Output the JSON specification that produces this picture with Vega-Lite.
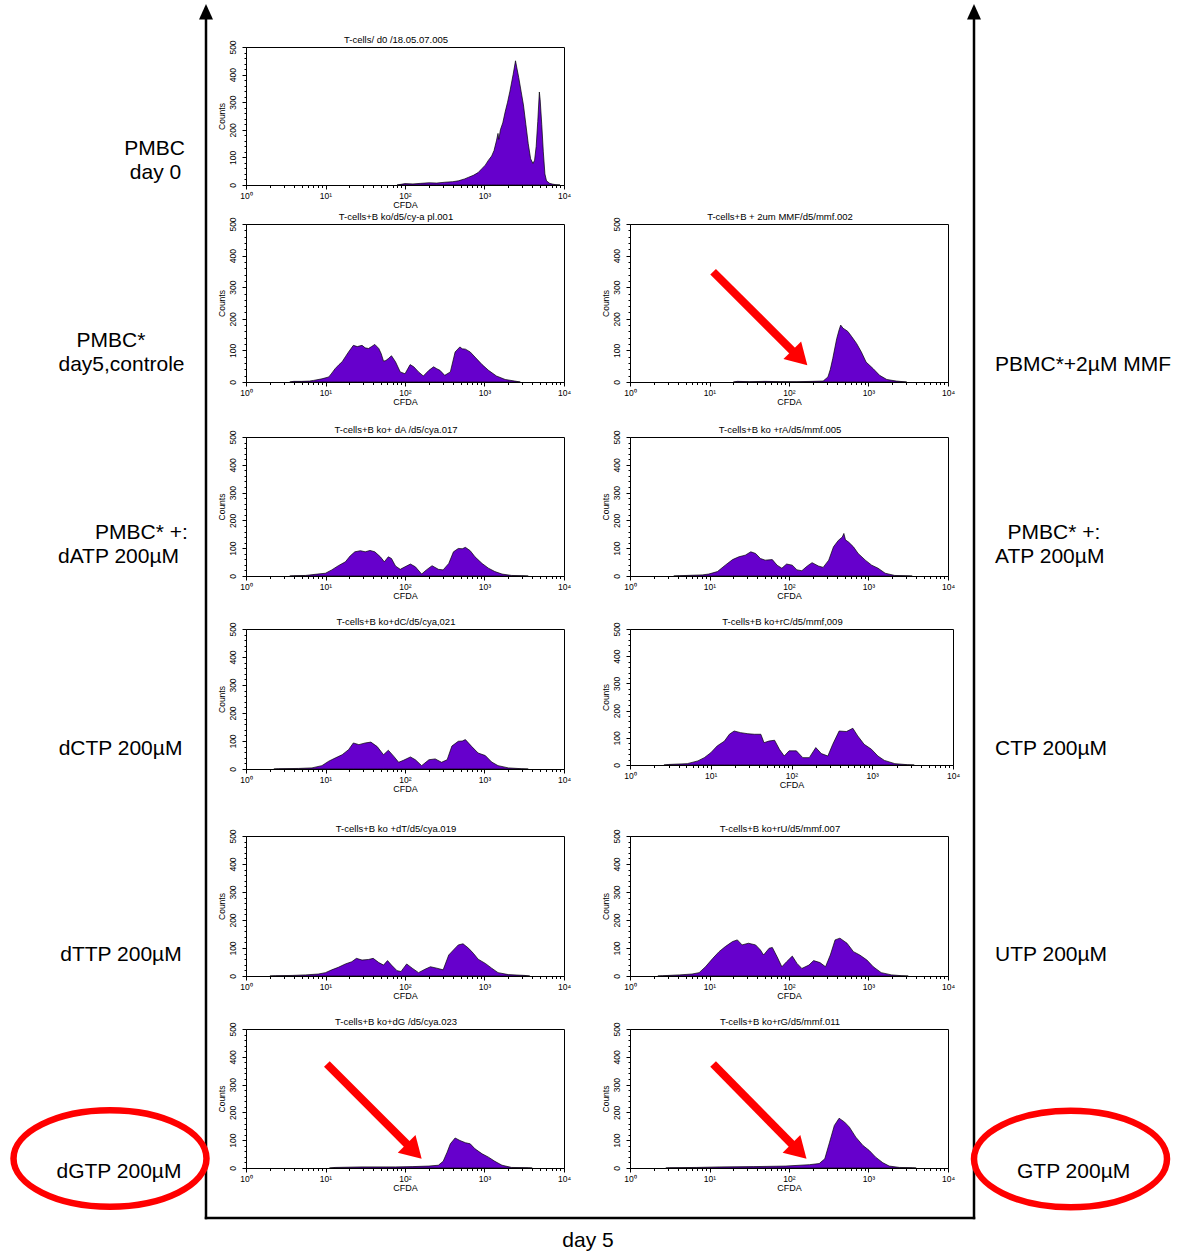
{
"$schema": "https://vega.github.io/schema/vega-lite/v6.json",
"padding": 0,
"autosize": {"type": "pad"},
"bounds": "flush",
"columns": 4,
"spacing": {"row": 0, "column": 66},
"config": {
  "font": "Liberation Sans",
  "background": "white",
  "axis": {"grid": false, "domainColor": "black", "tickColor": "black", "labelColor": "black", "titleColor": "black", "titleFontWeight": "normal", "labelFont": "Liberation Sans", "titleFont": "Liberation Sans"},
  "title": {"fontSize": 9.5, "fontWeight": "normal", "color": "black", "offset": -5, "baseline": "alphabetic", "font": "Liberation Sans", "frame": "group", "dx": -9},
  "text": {"font": "Liberation Sans", "color": "black"}
},
"datasets": {
"p1": [{"CFDA":79.4,"Counts":0},{"CFDA":100,"Counts":5},{"CFDA":126,"Counts":4},{"CFDA":158,"Counts":6},{"CFDA":200,"Counts":8},{"CFDA":251,"Counts":7},{"CFDA":316,"Counts":10},{"CFDA":398,"Counts":12},{"CFDA":468,"Counts":15},{"CFDA":562,"Counts":22},{"CFDA":631,"Counts":28},{"CFDA":724,"Counts":35},{"CFDA":832,"Counts":45},{"CFDA":933,"Counts":60},{"CFDA":1023,"Counts":72},{"CFDA":1122,"Counts":90},{"CFDA":1230,"Counts":105},{"CFDA":1318,"Counts":125},{"CFDA":1413,"Counts":160},{"CFDA":1479,"Counts":187},{"CFDA":1514,"Counts":165},{"CFDA":1585,"Counts":200},{"CFDA":1698,"Counts":225},{"CFDA":1820,"Counts":265},{"CFDA":1950,"Counts":300},{"CFDA":2089,"Counts":340},{"CFDA":2291,"Counts":400},{"CFDA":2455,"Counts":450},{"CFDA":2570,"Counts":420},{"CFDA":2692,"Counts":390},{"CFDA":2884,"Counts":340},{"CFDA":3090,"Counts":290},{"CFDA":3311,"Counts":220},{"CFDA":3548,"Counts":150},{"CFDA":3802,"Counts":95},{"CFDA":4074,"Counts":78},{"CFDA":4266,"Counts":90},{"CFDA":4467,"Counts":140},{"CFDA":4677,"Counts":230},{"CFDA":4898,"Counts":337},{"CFDA":5012,"Counts":310},{"CFDA":5248,"Counts":220},{"CFDA":5495,"Counts":120},{"CFDA":5754,"Counts":40},{"CFDA":6026,"Counts":15},{"CFDA":6607,"Counts":6},{"CFDA":7244,"Counts":3},{"CFDA":7943,"Counts":1},{"CFDA":8913,"Counts":0}],
"p2": [{"CFDA":3.55,"Counts":0},{"CFDA":3.98,"Counts":2},{"CFDA":5.01,"Counts":2},{"CFDA":6.31,"Counts":3},{"CFDA":7.08,"Counts":5},{"CFDA":9.02,"Counts":10},{"CFDA":11.0,"Counts":16},{"CFDA":12.0,"Counts":28},{"CFDA":13.2,"Counts":42},{"CFDA":14.8,"Counts":55},{"CFDA":16.2,"Counts":64},{"CFDA":17.8,"Counts":80},{"CFDA":19.5,"Counts":95},{"CFDA":22.4,"Counts":116},{"CFDA":25.1,"Counts":112},{"CFDA":28.8,"Counts":116},{"CFDA":31.6,"Counts":108},{"CFDA":34.7,"Counts":106},{"CFDA":38.0,"Counts":112},{"CFDA":41.7,"Counts":119},{"CFDA":46.8,"Counts":106},{"CFDA":50.1,"Counts":90},{"CFDA":53.7,"Counts":66},{"CFDA":57.5,"Counts":68},{"CFDA":61.7,"Counts":74},{"CFDA":67.6,"Counts":83},{"CFDA":75.9,"Counts":64},{"CFDA":87.1,"Counts":32},{"CFDA":100,"Counts":26},{"CFDA":116,"Counts":55},{"CFDA":129,"Counts":48},{"CFDA":148,"Counts":32},{"CFDA":170,"Counts":19},{"CFDA":200,"Counts":37},{"CFDA":229,"Counts":48},{"CFDA":251,"Counts":42},{"CFDA":275,"Counts":37},{"CFDA":316,"Counts":21},{"CFDA":372,"Counts":32},{"CFDA":427,"Counts":95},{"CFDA":490,"Counts":111},{"CFDA":525,"Counts":105},{"CFDA":575,"Counts":104},{"CFDA":661,"Counts":95},{"CFDA":759,"Counts":79},{"CFDA":933,"Counts":55},{"CFDA":1122,"Counts":37},{"CFDA":1413,"Counts":19},{"CFDA":1820,"Counts":8},{"CFDA":2399,"Counts":3},{"CFDA":2818,"Counts":0}],
"p3": [{"CFDA":20.0,"Counts":0},{"CFDA":22.4,"Counts":2},{"CFDA":31.6,"Counts":1},{"CFDA":50.1,"Counts":2},{"CFDA":79.4,"Counts":1},{"CFDA":126,"Counts":1},{"CFDA":200,"Counts":2},{"CFDA":269,"Counts":3},{"CFDA":309,"Counts":16},{"CFDA":331,"Counts":40},{"CFDA":355,"Counts":74},{"CFDA":398,"Counts":137},{"CFDA":427,"Counts":165},{"CFDA":447,"Counts":180},{"CFDA":479,"Counts":170},{"CFDA":501,"Counts":167},{"CFDA":550,"Counts":160},{"CFDA":617,"Counts":143},{"CFDA":708,"Counts":122},{"CFDA":813,"Counts":95},{"CFDA":933,"Counts":63},{"CFDA":1148,"Counts":42},{"CFDA":1380,"Counts":21},{"CFDA":1698,"Counts":8},{"CFDA":2239,"Counts":3},{"CFDA":3020,"Counts":0}],
"p4": [{"CFDA":3.55,"Counts":0},{"CFDA":3.98,"Counts":1},{"CFDA":5.62,"Counts":2},{"CFDA":7.41,"Counts":6},{"CFDA":10,"Counts":10},{"CFDA":12.0,"Counts":22},{"CFDA":14.5,"Counts":37},{"CFDA":17.8,"Counts":51},{"CFDA":20.4,"Counts":72},{"CFDA":23.4,"Counts":87},{"CFDA":27.5,"Counts":91},{"CFDA":31.6,"Counts":87},{"CFDA":36.3,"Counts":92},{"CFDA":41.7,"Counts":87},{"CFDA":49.0,"Counts":69},{"CFDA":55.0,"Counts":51},{"CFDA":61.7,"Counts":69},{"CFDA":67.6,"Counts":63},{"CFDA":75.9,"Counts":36},{"CFDA":87.1,"Counts":24},{"CFDA":100,"Counts":33},{"CFDA":117,"Counts":43},{"CFDA":135,"Counts":33},{"CFDA":162,"Counts":7},{"CFDA":186,"Counts":22},{"CFDA":219,"Counts":37},{"CFDA":263,"Counts":24},{"CFDA":302,"Counts":22},{"CFDA":355,"Counts":45},{"CFDA":407,"Counts":87},{"CFDA":468,"Counts":99},{"CFDA":525,"Counts":98},{"CFDA":575,"Counts":103},{"CFDA":661,"Counts":91},{"CFDA":759,"Counts":69},{"CFDA":933,"Counts":45},{"CFDA":1122,"Counts":28},{"CFDA":1349,"Counts":16},{"CFDA":1660,"Counts":7},{"CFDA":2188,"Counts":2},{"CFDA":2951,"Counts":1},{"CFDA":3548,"Counts":0}],
"p5": [{"CFDA":3.55,"Counts":0},{"CFDA":4.17,"Counts":1},{"CFDA":8.13,"Counts":4},{"CFDA":9.77,"Counts":7},{"CFDA":12.6,"Counts":16},{"CFDA":15.8,"Counts":39},{"CFDA":19.5,"Counts":59},{"CFDA":23.4,"Counts":69},{"CFDA":28.2,"Counts":75},{"CFDA":33.1,"Counts":87},{"CFDA":38.0,"Counts":81},{"CFDA":43.7,"Counts":63},{"CFDA":50.1,"Counts":57},{"CFDA":61.7,"Counts":59},{"CFDA":70.8,"Counts":39},{"CFDA":81.3,"Counts":28},{"CFDA":93.3,"Counts":43},{"CFDA":110,"Counts":39},{"CFDA":126,"Counts":22},{"CFDA":145,"Counts":19},{"CFDA":170,"Counts":36},{"CFDA":195,"Counts":48},{"CFDA":234,"Counts":36},{"CFDA":269,"Counts":31},{"CFDA":316,"Counts":57},{"CFDA":363,"Counts":105},{"CFDA":417,"Counts":128},{"CFDA":468,"Counts":140},{"CFDA":490,"Counts":153},{"CFDA":513,"Counts":130},{"CFDA":562,"Counts":122},{"CFDA":646,"Counts":105},{"CFDA":741,"Counts":81},{"CFDA":912,"Counts":57},{"CFDA":1096,"Counts":39},{"CFDA":1318,"Counts":28},{"CFDA":1622,"Counts":10},{"CFDA":2138,"Counts":2},{"CFDA":2884,"Counts":1},{"CFDA":3548,"Counts":0}],
"p6": [{"CFDA":2.24,"Counts":0},{"CFDA":2.57,"Counts":1},{"CFDA":4.57,"Counts":2},{"CFDA":6.76,"Counts":4},{"CFDA":9.02,"Counts":12},{"CFDA":11.0,"Counts":28},{"CFDA":13.2,"Counts":39},{"CFDA":16.2,"Counts":51},{"CFDA":19.5,"Counts":69},{"CFDA":22.4,"Counts":93},{"CFDA":26.3,"Counts":87},{"CFDA":31.6,"Counts":93},{"CFDA":37.2,"Counts":96},{"CFDA":44.7,"Counts":80},{"CFDA":53.7,"Counts":51},{"CFDA":61.7,"Counts":67},{"CFDA":72.4,"Counts":45},{"CFDA":83.2,"Counts":24},{"CFDA":95.5,"Counts":31},{"CFDA":117,"Counts":43},{"CFDA":135,"Counts":33},{"CFDA":162,"Counts":12},{"CFDA":200,"Counts":33},{"CFDA":240,"Counts":36},{"CFDA":288,"Counts":24},{"CFDA":339,"Counts":33},{"CFDA":389,"Counts":82},{"CFDA":468,"Counts":99},{"CFDA":525,"Counts":100},{"CFDA":575,"Counts":105},{"CFDA":692,"Counts":80},{"CFDA":832,"Counts":57},{"CFDA":1023,"Counts":48},{"CFDA":1230,"Counts":25},{"CFDA":1479,"Counts":12},{"CFDA":1995,"Counts":4},{"CFDA":2951,"Counts":1},{"CFDA":3548,"Counts":0}],
"p7": [{"CFDA":2.63,"Counts":0},{"CFDA":3.02,"Counts":2},{"CFDA":5.13,"Counts":5},{"CFDA":6.92,"Counts":15},{"CFDA":8.32,"Counts":27},{"CFDA":10,"Counts":45},{"CFDA":12.0,"Counts":70},{"CFDA":14.8,"Counts":88},{"CFDA":17.0,"Counts":113},{"CFDA":19.5,"Counts":125},{"CFDA":23.4,"Counts":119},{"CFDA":28.8,"Counts":115},{"CFDA":34.7,"Counts":113},{"CFDA":41.7,"Counts":113},{"CFDA":45.7,"Counts":82},{"CFDA":52.5,"Counts":88},{"CFDA":61.7,"Counts":91},{"CFDA":70.8,"Counts":58},{"CFDA":81.3,"Counts":33},{"CFDA":93.3,"Counts":52},{"CFDA":115,"Counts":52},{"CFDA":138,"Counts":27},{"CFDA":166,"Counts":27},{"CFDA":200,"Counts":64},{"CFDA":234,"Counts":42},{"CFDA":282,"Counts":33},{"CFDA":324,"Counts":76},{"CFDA":389,"Counts":125},{"CFDA":479,"Counts":123},{"CFDA":575,"Counts":135},{"CFDA":661,"Counts":107},{"CFDA":794,"Counts":76},{"CFDA":977,"Counts":58},{"CFDA":1175,"Counts":33},{"CFDA":1413,"Counts":17},{"CFDA":1905,"Counts":5},{"CFDA":2754,"Counts":1},{"CFDA":3311,"Counts":0}],
"p8": [{"CFDA":2.0,"Counts":0},{"CFDA":2.34,"Counts":1},{"CFDA":3.80,"Counts":2},{"CFDA":5.62,"Counts":4},{"CFDA":8.13,"Counts":7},{"CFDA":10,"Counts":12},{"CFDA":12.0,"Counts":22},{"CFDA":14.5,"Counts":31},{"CFDA":17.8,"Counts":43},{"CFDA":21.4,"Counts":51},{"CFDA":24.5,"Counts":63},{"CFDA":28.8,"Counts":57},{"CFDA":34.7,"Counts":59},{"CFDA":39.8,"Counts":63},{"CFDA":46.8,"Counts":48},{"CFDA":53.7,"Counts":39},{"CFDA":60.3,"Counts":55},{"CFDA":67.6,"Counts":39},{"CFDA":79.4,"Counts":19},{"CFDA":89.1,"Counts":16},{"CFDA":105,"Counts":43},{"CFDA":123,"Counts":28},{"CFDA":148,"Counts":12},{"CFDA":178,"Counts":24},{"CFDA":209,"Counts":33},{"CFDA":251,"Counts":28},{"CFDA":302,"Counts":22},{"CFDA":355,"Counts":75},{"CFDA":407,"Counts":93},{"CFDA":468,"Counts":111},{"CFDA":537,"Counts":115},{"CFDA":631,"Counts":99},{"CFDA":724,"Counts":81},{"CFDA":832,"Counts":60},{"CFDA":1023,"Counts":45},{"CFDA":1230,"Counts":28},{"CFDA":1479,"Counts":12},{"CFDA":1995,"Counts":5},{"CFDA":3236,"Counts":2},{"CFDA":3715,"Counts":0}],
"p9": [{"CFDA":2.24,"Counts":0},{"CFDA":2.57,"Counts":1},{"CFDA":4.17,"Counts":4},{"CFDA":6.03,"Counts":7},{"CFDA":7.41,"Counts":12},{"CFDA":8.91,"Counts":33},{"CFDA":11.0,"Counts":63},{"CFDA":13.2,"Counts":87},{"CFDA":15.8,"Counts":105},{"CFDA":19.5,"Counts":123},{"CFDA":22.4,"Counts":129},{"CFDA":25.7,"Counts":111},{"CFDA":30.9,"Counts":117},{"CFDA":38.0,"Counts":111},{"CFDA":43.7,"Counts":93},{"CFDA":47.9,"Counts":75},{"CFDA":56.2,"Counts":99},{"CFDA":61.7,"Counts":102},{"CFDA":70.8,"Counts":69},{"CFDA":81.3,"Counts":33},{"CFDA":93.3,"Counts":51},{"CFDA":110,"Counts":71},{"CFDA":126,"Counts":45},{"CFDA":145,"Counts":27},{"CFDA":178,"Counts":39},{"CFDA":204,"Counts":55},{"CFDA":245,"Counts":48},{"CFDA":288,"Counts":33},{"CFDA":331,"Counts":75},{"CFDA":380,"Counts":129},{"CFDA":437,"Counts":135},{"CFDA":537,"Counts":117},{"CFDA":646,"Counts":87},{"CFDA":776,"Counts":75},{"CFDA":955,"Counts":57},{"CFDA":1148,"Counts":33},{"CFDA":1445,"Counts":12},{"CFDA":1950,"Counts":4},{"CFDA":2630,"Counts":1},{"CFDA":3162,"Counts":0}],
"p10": [{"CFDA":11.2,"Counts":0},{"CFDA":13.2,"Counts":2},{"CFDA":28.8,"Counts":4},{"CFDA":75.9,"Counts":4},{"CFDA":123,"Counts":5},{"CFDA":200,"Counts":7},{"CFDA":263,"Counts":10},{"CFDA":302,"Counts":24},{"CFDA":339,"Counts":57},{"CFDA":372,"Counts":87},{"CFDA":427,"Counts":108},{"CFDA":490,"Counts":99},{"CFDA":575,"Counts":91},{"CFDA":661,"Counts":87},{"CFDA":759,"Counts":69},{"CFDA":933,"Counts":51},{"CFDA":1122,"Counts":39},{"CFDA":1349,"Counts":24},{"CFDA":1660,"Counts":10},{"CFDA":2188,"Counts":2},{"CFDA":3548,"Counts":1},{"CFDA":3981,"Counts":0}],
"p11": [{"CFDA":2.82,"Counts":0},{"CFDA":3.16,"Counts":1},{"CFDA":6.92,"Counts":2},{"CFDA":13.5,"Counts":4},{"CFDA":35.5,"Counts":5},{"CFDA":91.2,"Counts":7},{"CFDA":182,"Counts":12},{"CFDA":240,"Counts":16},{"CFDA":282,"Counts":33},{"CFDA":324,"Counts":93},{"CFDA":372,"Counts":153},{"CFDA":427,"Counts":179},{"CFDA":501,"Counts":165},{"CFDA":575,"Counts":147},{"CFDA":692,"Counts":111},{"CFDA":851,"Counts":81},{"CFDA":1023,"Counts":63},{"CFDA":1230,"Counts":39},{"CFDA":1514,"Counts":19},{"CFDA":1820,"Counts":7},{"CFDA":2455,"Counts":2},{"CFDA":3548,"Counts":1},{"CFDA":3981,"Counts":0}]
},
"concat": [
{"width": 168, "height": 177, "view": {"stroke": null}, "layer": [
  {"data": {"values": [{"element": "page corner"}]}, "mark": {"type": "rule", "color": "white", "strokeWidth": 0}, "encoding": {"x": {"datum": 0, "type": "quantitative", "scale": {"domain": [10, 178], "nice": false, "zero": false}, "axis": null}, "y": {"datum": 0, "type": "quantitative", "scale": {"domain": [47, 224], "reverse": true, "nice": false, "zero": false}, "axis": null}, "x2": {"datum": 1}, "y2": {"datum": 1}}},
  {"data": {"values": [{"element": "left frame"}]}, "mark": {"type": "rule", "color": "black", "strokeWidth": 2.5, "strokeCap": "square"}, "encoding": {"x": {"datum": 204, "type": "quantitative", "scale": {"domain": [10, 178], "nice": false, "zero": false}, "axis": null}, "y": {"datum": 18, "type": "quantitative", "scale": {"domain": [47, 224], "reverse": true, "nice": false, "zero": false}, "axis": null}, "y2": {"datum": 1218}}},
  {"data": {"values": [{"element": "bottom frame"}]}, "mark": {"type": "rule", "color": "black", "strokeWidth": 2.5, "strokeCap": "square"}, "encoding": {"x": {"datum": 204, "type": "quantitative", "scale": {"domain": [10, 178], "nice": false, "zero": false}, "axis": null}, "x2": {"datum": 972}, "y": {"datum": 1218, "type": "quantitative", "scale": {"domain": [47, 224], "reverse": true, "nice": false, "zero": false}, "axis": null}}},
  {"data": {"values": [{"element": "left arrow head"}]}, "mark": {"type": "point", "shape": "M 0 0 L -1 2.2 L 1 2.2 Z", "size": 196, "filled": true, "fill": "black", "strokeWidth": 0, "opacity": 1}, "encoding": {"x": {"datum": 204, "type": "quantitative", "scale": {"domain": [10, 178], "nice": false, "zero": false}, "axis": null}, "y": {"datum": 4, "type": "quantitative", "scale": {"domain": [47, 224], "reverse": true, "nice": false, "zero": false}, "axis": null}}},
  {"data": {"values": [{"label": "PMBC"}]}, "mark": {"type": "text", "fontSize": 21, "align": "center", "baseline": "middle"}, "encoding": {"text": {"field": "label"}, "x": {"datum": 152.5, "type": "quantitative", "scale": {"domain": [10, 178], "nice": false, "zero": false}, "axis": null}, "y": {"datum": 149, "type": "quantitative", "scale": {"domain": [47, 224], "reverse": true, "nice": false, "zero": false}, "axis": null}}},
  {"data": {"values": [{"label": "day 0"}]}, "mark": {"type": "text", "fontSize": 21, "align": "center", "baseline": "middle"}, "encoding": {"text": {"field": "label"}, "x": {"datum": 153.5, "type": "quantitative", "scale": {"domain": [10, 178], "nice": false, "zero": false}, "axis": null}, "y": {"datum": 173, "type": "quantitative", "scale": {"domain": [47, 224], "reverse": true, "nice": false, "zero": false}, "axis": null}}}
]},
{"width": 318, "height": 138, "view": {"fill": "white", "stroke": "black", "strokeWidth": 1}, "title": "T-cells/ d0 /18.05.07.005", "data": {"name": "p1"},
 "mark": {"type": "area", "fill": "#6600cc", "stroke": "black", "strokeWidth": 0.7, "opacity": 1, "interpolate": "linear"},
 "encoding": {
  "x": {"field": "CFDA", "type": "quantitative", "scale": {"type": "log", "domain": [1, 10000], "nice": false, "zero": false}, "axis": {"title": "CFDA", "titleFontSize": 9, "labelFontSize": 8.5, "values": [1,2,3,4,5,6,7,8,9,10,20,30,40,50,60,70,80,90,100,200,300,400,500,600,700,800,900,1000,2000,3000,4000,5000,6000,7000,8000,9000,10000], "labelExpr": "datum.value == 1 ? '10\u2070' : datum.value == 10 ? '10\u00b9' : datum.value == 100 ? '10\u00b2' : datum.value == 1000 ? '10\u00b3' : datum.value == 10000 ? '10\u2074' : ''", "labelOverlap": false, "labelFlush": false, "tickSize": {"condition": {"test": "indexof([1,10,100,1000,10000], datum.value) >= 0", "value": 4}, "value": 2.5}, "labelPadding": 2, "titlePadding": 1}},
  "y": {"field": "Counts", "type": "quantitative", "stack": null, "scale": {"domain": [0, 500], "nice": false, "zero": false}, "axis": {"title": "Counts", "titleFontSize": 8.5, "labelFontSize": 8.5, "values": [0,20,40,60,80,100,120,140,160,180,200,220,240,260,280,300,320,340,360,380,400,420,440,460,480,500], "labelExpr": "datum.value % 100 === 0 ? datum.label : ''", "labelAngle": -90, "labelAlign": "center", "labelBaseline": "bottom", "labelOverlap": false, "labelFlush": false, "tickSize": {"condition": {"test": "datum.value % 100 === 0", "value": 4}, "value": 2}, "labelPadding": 5, "titlePadding": 2}}
 }},
{"width": 318, "height": 138, "view": {"stroke": null}, "data": {"values": []}, "mark": {"type": "point", "opacity": 0}},
{"width": 169, "height": 177, "view": {"stroke": null}, "layer": [
  {"data": {"values": [{"element": "right frame"}]}, "mark": {"type": "rule", "color": "black", "strokeWidth": 2.5, "strokeCap": "square"}, "encoding": {"x": {"datum": 972, "type": "quantitative", "scale": {"domain": [1017, 1186], "nice": false, "zero": false}, "axis": null}, "y": {"datum": 18, "type": "quantitative", "scale": {"domain": [47, 224], "reverse": true, "nice": false, "zero": false}, "axis": null}, "y2": {"datum": 1218}}},
  {"data": {"values": [{"element": "right arrow head"}]}, "mark": {"type": "point", "shape": "M 0 0 L -1 2.2 L 1 2.2 Z", "size": 196, "filled": true, "fill": "black", "strokeWidth": 0, "opacity": 1}, "encoding": {"x": {"datum": 972, "type": "quantitative", "scale": {"domain": [1017, 1186], "nice": false, "zero": false}, "axis": null}, "y": {"datum": 4, "type": "quantitative", "scale": {"domain": [47, 224], "reverse": true, "nice": false, "zero": false}, "axis": null}}}
]},

{"width": 168, "height": 213, "view": {"stroke": null}, "layer": [
  {"data": {"values": [{"label": "PMBC*"}]}, "mark": {"type": "text", "fontSize": 21, "align": "center", "baseline": "middle"}, "encoding": {"text": {"field": "label"}, "x": {"datum": 109, "type": "quantitative", "scale": {"domain": [10, 178], "nice": false, "zero": false}, "axis": null}, "y": {"datum": 341, "type": "quantitative", "scale": {"domain": [224, 437], "reverse": true, "nice": false, "zero": false}, "axis": null}}},
  {"data": {"values": [{"label": "day5,controle"}]}, "mark": {"type": "text", "fontSize": 21, "align": "center", "baseline": "middle"}, "encoding": {"text": {"field": "label"}, "x": {"datum": 119.5, "type": "quantitative", "scale": {"domain": [10, 178], "nice": false, "zero": false}, "axis": null}, "y": {"datum": 365, "type": "quantitative", "scale": {"domain": [224, 437], "reverse": true, "nice": false, "zero": false}, "axis": null}}}
]},
{"width": 318, "height": 158, "view": {"fill": "white", "stroke": "black", "strokeWidth": 1}, "title": "T-cells+B  ko/d5/cy-a pl.001", "data": {"name": "p2"},
 "mark": {"type": "area", "fill": "#6600cc", "stroke": "black", "strokeWidth": 0.7, "opacity": 1, "interpolate": "linear"},
 "encoding": {
  "x": {"field": "CFDA", "type": "quantitative", "scale": {"type": "log", "domain": [1, 10000], "nice": false, "zero": false}, "axis": {"title": "CFDA", "titleFontSize": 9, "labelFontSize": 8.5, "values": [1,2,3,4,5,6,7,8,9,10,20,30,40,50,60,70,80,90,100,200,300,400,500,600,700,800,900,1000,2000,3000,4000,5000,6000,7000,8000,9000,10000], "labelExpr": "datum.value == 1 ? '10\u2070' : datum.value == 10 ? '10\u00b9' : datum.value == 100 ? '10\u00b2' : datum.value == 1000 ? '10\u00b3' : datum.value == 10000 ? '10\u2074' : ''", "labelOverlap": false, "labelFlush": false, "tickSize": {"condition": {"test": "indexof([1,10,100,1000,10000], datum.value) >= 0", "value": 4}, "value": 2.5}, "labelPadding": 2, "titlePadding": 1}},
  "y": {"field": "Counts", "type": "quantitative", "stack": null, "scale": {"domain": [0, 500], "nice": false, "zero": false}, "axis": {"title": "Counts", "titleFontSize": 8.5, "labelFontSize": 8.5, "values": [0,20,40,60,80,100,120,140,160,180,200,220,240,260,280,300,320,340,360,380,400,420,440,460,480,500], "labelExpr": "datum.value % 100 === 0 ? datum.label : ''", "labelAngle": -90, "labelAlign": "center", "labelBaseline": "bottom", "labelOverlap": false, "labelFlush": false, "tickSize": {"condition": {"test": "datum.value % 100 === 0", "value": 4}, "value": 2}, "labelPadding": 5, "titlePadding": 2}}
 }},
{"width": 318, "height": 158, "view": {"fill": "white", "stroke": "black", "strokeWidth": 1}, "title": "T-cells+B + 2um MMF/d5/mmf.002", "layer": [
 {"data": {"name": "p3"}, "mark": {"type": "area", "fill": "#6600cc", "stroke": "black", "strokeWidth": 0.7, "opacity": 1, "interpolate": "linear"},
 "encoding": {
  "x": {"field": "CFDA", "type": "quantitative", "scale": {"type": "log", "domain": [1, 10000], "nice": false, "zero": false}, "axis": {"title": "CFDA", "titleFontSize": 9, "labelFontSize": 8.5, "values": [1,2,3,4,5,6,7,8,9,10,20,30,40,50,60,70,80,90,100,200,300,400,500,600,700,800,900,1000,2000,3000,4000,5000,6000,7000,8000,9000,10000], "labelExpr": "datum.value == 1 ? '10\u2070' : datum.value == 10 ? '10\u00b9' : datum.value == 100 ? '10\u00b2' : datum.value == 1000 ? '10\u00b3' : datum.value == 10000 ? '10\u2074' : ''", "labelOverlap": false, "labelFlush": false, "tickSize": {"condition": {"test": "indexof([1,10,100,1000,10000], datum.value) >= 0", "value": 4}, "value": 2.5}, "labelPadding": 2, "titlePadding": 1}},
  "y": {"field": "Counts", "type": "quantitative", "stack": null, "scale": {"domain": [0, 500], "nice": false, "zero": false}, "axis": {"title": "Counts", "titleFontSize": 8.5, "labelFontSize": 8.5, "values": [0,20,40,60,80,100,120,140,160,180,200,220,240,260,280,300,320,340,360,380,400,420,440,460,480,500], "labelExpr": "datum.value % 100 === 0 ? datum.label : ''", "labelAngle": -90, "labelAlign": "center", "labelBaseline": "bottom", "labelOverlap": false, "labelFlush": false, "tickSize": {"condition": {"test": "datum.value % 100 === 0", "value": 4}, "value": 2}, "labelPadding": 5, "titlePadding": 2}}
 }},
 {"data": {"values": [{"annotation": "arrow"}]}, "mark": {"type": "rule", "color": "#ff0000", "strokeWidth": 8}, "encoding": {
  "x": {"datum": 11.1, "type": "quantitative", "scale": {"type": "log", "domain": [1, 10000], "nice": false, "zero": false}, "axis": {"title": "CFDA", "titleFontSize": 9, "labelFontSize": 8.5, "values": [1,2,3,4,5,6,7,8,9,10,20,30,40,50,60,70,80,90,100,200,300,400,500,600,700,800,900,1000,2000,3000,4000,5000,6000,7000,8000,9000,10000], "labelExpr": "datum.value == 1 ? '10\u2070' : datum.value == 10 ? '10\u00b9' : datum.value == 100 ? '10\u00b2' : datum.value == 1000 ? '10\u00b3' : datum.value == 10000 ? '10\u2074' : ''", "labelOverlap": false, "labelFlush": false, "tickSize": {"condition": {"test": "indexof([1,10,100,1000,10000], datum.value) >= 0", "value": 4}, "value": 2.5}, "labelPadding": 2, "titlePadding": 1}},
  "y": {"datum": 349, "type": "quantitative", "scale": {"domain": [0, 500], "nice": false, "zero": false}, "axis": {"title": "Counts", "titleFontSize": 8.5, "labelFontSize": 8.5, "values": [0,20,40,60,80,100,120,140,160,180,200,220,240,260,280,300,320,340,360,380,400,420,440,460,480,500], "labelExpr": "datum.value % 100 === 0 ? datum.label : ''", "labelAngle": -90, "labelAlign": "center", "labelBaseline": "bottom", "labelOverlap": false, "labelFlush": false, "tickSize": {"condition": {"test": "datum.value % 100 === 0", "value": 4}, "value": 2}, "labelPadding": 5, "titlePadding": 2}},
  "x2": {"datum": 112}, "y2": {"datum": 97}}},
 {"data": {"values": [{"annotation": "arrow"}]}, "mark": {"type": "point", "shape": "M 0 0 L -1.7 -1 L -1.7 1 Z", "size": 625, "angle": 45, "filled": true, "fill": "#ff0000", "strokeWidth": 0, "opacity": 1}, "encoding": {
  "x": {"datum": 170, "type": "quantitative", "scale": {"type": "log", "domain": [1, 10000], "nice": false, "zero": false}, "axis": {"title": "CFDA", "titleFontSize": 9, "labelFontSize": 8.5, "values": [1,2,3,4,5,6,7,8,9,10,20,30,40,50,60,70,80,90,100,200,300,400,500,600,700,800,900,1000,2000,3000,4000,5000,6000,7000,8000,9000,10000], "labelExpr": "datum.value == 1 ? '10\u2070' : datum.value == 10 ? '10\u00b9' : datum.value == 100 ? '10\u00b2' : datum.value == 1000 ? '10\u00b3' : datum.value == 10000 ? '10\u2074' : ''", "labelOverlap": false, "labelFlush": false, "tickSize": {"condition": {"test": "indexof([1,10,100,1000,10000], datum.value) >= 0", "value": 4}, "value": 2.5}, "labelPadding": 2, "titlePadding": 1}},
  "y": {"datum": 53, "type": "quantitative", "scale": {"domain": [0, 500], "nice": false, "zero": false}, "axis": {"title": "Counts", "titleFontSize": 8.5, "labelFontSize": 8.5, "values": [0,20,40,60,80,100,120,140,160,180,200,220,240,260,280,300,320,340,360,380,400,420,440,460,480,500], "labelExpr": "datum.value % 100 === 0 ? datum.label : ''", "labelAngle": -90, "labelAlign": "center", "labelBaseline": "bottom", "labelOverlap": false, "labelFlush": false, "tickSize": {"condition": {"test": "datum.value % 100 === 0", "value": 4}, "value": 2}, "labelPadding": 5, "titlePadding": 2}}}}
]},
{"width": 169, "height": 213, "view": {"stroke": null}, "layer": [
  {"data": {"values": [{"label": "PBMC*+2µM  MMF"}]}, "mark": {"type": "text", "fontSize": 21, "align": "left", "baseline": "middle"}, "encoding": {"text": {"field": "label"}, "x": {"datum": 993, "type": "quantitative", "scale": {"domain": [1017, 1186], "nice": false, "zero": false}, "axis": null}, "y": {"datum": 365, "type": "quantitative", "scale": {"domain": [224, 437], "reverse": true, "nice": false, "zero": false}, "axis": null}}}
]},

{"width": 168, "height": 192, "view": {"stroke": null}, "layer": [
  {"data": {"values": [{"label": "PMBC* +:"}]}, "mark": {"type": "text", "fontSize": 21, "align": "center", "baseline": "middle"}, "encoding": {"text": {"field": "label"}, "x": {"datum": 139.5, "type": "quantitative", "scale": {"domain": [10, 178], "nice": false, "zero": false}, "axis": null}, "y": {"datum": 533, "type": "quantitative", "scale": {"domain": [437, 629], "reverse": true, "nice": false, "zero": false}, "axis": null}}},
  {"data": {"values": [{"label": "dATP 200µM"}]}, "mark": {"type": "text", "fontSize": 21, "align": "center", "baseline": "middle"}, "encoding": {"text": {"field": "label"}, "x": {"datum": 116.5, "type": "quantitative", "scale": {"domain": [10, 178], "nice": false, "zero": false}, "axis": null}, "y": {"datum": 557, "type": "quantitative", "scale": {"domain": [437, 629], "reverse": true, "nice": false, "zero": false}, "axis": null}}}
]},
{"width": 318, "height": 139, "view": {"fill": "white", "stroke": "black", "strokeWidth": 1}, "title": "T-cells+B  ko+ dA /d5/cya.017", "data": {"name": "p4"},
 "mark": {"type": "area", "fill": "#6600cc", "stroke": "black", "strokeWidth": 0.7, "opacity": 1, "interpolate": "linear"},
 "encoding": {
  "x": {"field": "CFDA", "type": "quantitative", "scale": {"type": "log", "domain": [1, 10000], "nice": false, "zero": false}, "axis": {"title": "CFDA", "titleFontSize": 9, "labelFontSize": 8.5, "values": [1,2,3,4,5,6,7,8,9,10,20,30,40,50,60,70,80,90,100,200,300,400,500,600,700,800,900,1000,2000,3000,4000,5000,6000,7000,8000,9000,10000], "labelExpr": "datum.value == 1 ? '10\u2070' : datum.value == 10 ? '10\u00b9' : datum.value == 100 ? '10\u00b2' : datum.value == 1000 ? '10\u00b3' : datum.value == 10000 ? '10\u2074' : ''", "labelOverlap": false, "labelFlush": false, "tickSize": {"condition": {"test": "indexof([1,10,100,1000,10000], datum.value) >= 0", "value": 4}, "value": 2.5}, "labelPadding": 2, "titlePadding": 1}},
  "y": {"field": "Counts", "type": "quantitative", "stack": null, "scale": {"domain": [0, 500], "nice": false, "zero": false}, "axis": {"title": "Counts", "titleFontSize": 8.5, "labelFontSize": 8.5, "values": [0,20,40,60,80,100,120,140,160,180,200,220,240,260,280,300,320,340,360,380,400,420,440,460,480,500], "labelExpr": "datum.value % 100 === 0 ? datum.label : ''", "labelAngle": -90, "labelAlign": "center", "labelBaseline": "bottom", "labelOverlap": false, "labelFlush": false, "tickSize": {"condition": {"test": "datum.value % 100 === 0", "value": 4}, "value": 2}, "labelPadding": 5, "titlePadding": 2}}
 }},
{"width": 318, "height": 139, "view": {"fill": "white", "stroke": "black", "strokeWidth": 1}, "title": "T-cells+B  ko +rA/d5/mmf.005", "data": {"name": "p5"},
 "mark": {"type": "area", "fill": "#6600cc", "stroke": "black", "strokeWidth": 0.7, "opacity": 1, "interpolate": "linear"},
 "encoding": {
  "x": {"field": "CFDA", "type": "quantitative", "scale": {"type": "log", "domain": [1, 10000], "nice": false, "zero": false}, "axis": {"title": "CFDA", "titleFontSize": 9, "labelFontSize": 8.5, "values": [1,2,3,4,5,6,7,8,9,10,20,30,40,50,60,70,80,90,100,200,300,400,500,600,700,800,900,1000,2000,3000,4000,5000,6000,7000,8000,9000,10000], "labelExpr": "datum.value == 1 ? '10\u2070' : datum.value == 10 ? '10\u00b9' : datum.value == 100 ? '10\u00b2' : datum.value == 1000 ? '10\u00b3' : datum.value == 10000 ? '10\u2074' : ''", "labelOverlap": false, "labelFlush": false, "tickSize": {"condition": {"test": "indexof([1,10,100,1000,10000], datum.value) >= 0", "value": 4}, "value": 2.5}, "labelPadding": 2, "titlePadding": 1}},
  "y": {"field": "Counts", "type": "quantitative", "stack": null, "scale": {"domain": [0, 500], "nice": false, "zero": false}, "axis": {"title": "Counts", "titleFontSize": 8.5, "labelFontSize": 8.5, "values": [0,20,40,60,80,100,120,140,160,180,200,220,240,260,280,300,320,340,360,380,400,420,440,460,480,500], "labelExpr": "datum.value % 100 === 0 ? datum.label : ''", "labelAngle": -90, "labelAlign": "center", "labelBaseline": "bottom", "labelOverlap": false, "labelFlush": false, "tickSize": {"condition": {"test": "datum.value % 100 === 0", "value": 4}, "value": 2}, "labelPadding": 5, "titlePadding": 2}}
 }},
{"width": 169, "height": 192, "view": {"stroke": null}, "layer": [
  {"data": {"values": [{"label": "PMBC* +:"}]}, "mark": {"type": "text", "fontSize": 21, "align": "center", "baseline": "middle"}, "encoding": {"text": {"field": "label"}, "x": {"datum": 1052, "type": "quantitative", "scale": {"domain": [1017, 1186], "nice": false, "zero": false}, "axis": null}, "y": {"datum": 533, "type": "quantitative", "scale": {"domain": [437, 629], "reverse": true, "nice": false, "zero": false}, "axis": null}}},
  {"data": {"values": [{"label": "ATP 200µM"}]}, "mark": {"type": "text", "fontSize": 21, "align": "left", "baseline": "middle"}, "encoding": {"text": {"field": "label"}, "x": {"datum": 993, "type": "quantitative", "scale": {"domain": [1017, 1186], "nice": false, "zero": false}, "axis": null}, "y": {"datum": 557, "type": "quantitative", "scale": {"domain": [437, 629], "reverse": true, "nice": false, "zero": false}, "axis": null}}}
]},

{"width": 168, "height": 207, "view": {"stroke": null}, "layer": [
  {"data": {"values": [{"label": "dCTP 200µM"}]}, "mark": {"type": "text", "fontSize": 21, "align": "center", "baseline": "middle"}, "encoding": {"text": {"field": "label"}, "x": {"datum": 118.5, "type": "quantitative", "scale": {"domain": [10, 178], "nice": false, "zero": false}, "axis": null}, "y": {"datum": 749, "type": "quantitative", "scale": {"domain": [629, 836], "reverse": true, "nice": false, "zero": false}, "axis": null}}}
]},
{"width": 318, "height": 140, "view": {"fill": "white", "stroke": "black", "strokeWidth": 1}, "title": "T-cells+B   ko+dC/d5/cya,021", "data": {"name": "p6"},
 "mark": {"type": "area", "fill": "#6600cc", "stroke": "black", "strokeWidth": 0.7, "opacity": 1, "interpolate": "linear"},
 "encoding": {
  "x": {"field": "CFDA", "type": "quantitative", "scale": {"type": "log", "domain": [1, 10000], "nice": false, "zero": false}, "axis": {"title": "CFDA", "titleFontSize": 9, "labelFontSize": 8.5, "values": [1,2,3,4,5,6,7,8,9,10,20,30,40,50,60,70,80,90,100,200,300,400,500,600,700,800,900,1000,2000,3000,4000,5000,6000,7000,8000,9000,10000], "labelExpr": "datum.value == 1 ? '10\u2070' : datum.value == 10 ? '10\u00b9' : datum.value == 100 ? '10\u00b2' : datum.value == 1000 ? '10\u00b3' : datum.value == 10000 ? '10\u2074' : ''", "labelOverlap": false, "labelFlush": false, "tickSize": {"condition": {"test": "indexof([1,10,100,1000,10000], datum.value) >= 0", "value": 4}, "value": 2.5}, "labelPadding": 2, "titlePadding": 1}},
  "y": {"field": "Counts", "type": "quantitative", "stack": null, "scale": {"domain": [0, 500], "nice": false, "zero": false}, "axis": {"title": "Counts", "titleFontSize": 8.5, "labelFontSize": 8.5, "values": [0,20,40,60,80,100,120,140,160,180,200,220,240,260,280,300,320,340,360,380,400,420,440,460,480,500], "labelExpr": "datum.value % 100 === 0 ? datum.label : ''", "labelAngle": -90, "labelAlign": "center", "labelBaseline": "bottom", "labelOverlap": false, "labelFlush": false, "tickSize": {"condition": {"test": "datum.value % 100 === 0", "value": 4}, "value": 2}, "labelPadding": 5, "titlePadding": 2}}
 }},
{"width": 323, "height": 136, "view": {"fill": "white", "stroke": "black", "strokeWidth": 1}, "title": "T-cells+B ko+rC/d5/mmf,009", "data": {"name": "p7"},
 "mark": {"type": "area", "fill": "#6600cc", "stroke": "black", "strokeWidth": 0.7, "opacity": 1, "interpolate": "linear"},
 "encoding": {
  "x": {"field": "CFDA", "type": "quantitative", "scale": {"type": "log", "domain": [1, 10000], "nice": false, "zero": false}, "axis": {"title": "CFDA", "titleFontSize": 9, "labelFontSize": 8.5, "values": [1,2,3,4,5,6,7,8,9,10,20,30,40,50,60,70,80,90,100,200,300,400,500,600,700,800,900,1000,2000,3000,4000,5000,6000,7000,8000,9000,10000], "labelExpr": "datum.value == 1 ? '10\u2070' : datum.value == 10 ? '10\u00b9' : datum.value == 100 ? '10\u00b2' : datum.value == 1000 ? '10\u00b3' : datum.value == 10000 ? '10\u2074' : ''", "labelOverlap": false, "labelFlush": false, "tickSize": {"condition": {"test": "indexof([1,10,100,1000,10000], datum.value) >= 0", "value": 4}, "value": 2.5}, "labelPadding": 2, "titlePadding": 1}},
  "y": {"field": "Counts", "type": "quantitative", "stack": null, "scale": {"domain": [0, 500], "nice": false, "zero": false}, "axis": {"title": "Counts", "titleFontSize": 8.5, "labelFontSize": 8.5, "values": [0,20,40,60,80,100,120,140,160,180,200,220,240,260,280,300,320,340,360,380,400,420,440,460,480,500], "labelExpr": "datum.value % 100 === 0 ? datum.label : ''", "labelAngle": -90, "labelAlign": "center", "labelBaseline": "bottom", "labelOverlap": false, "labelFlush": false, "tickSize": {"condition": {"test": "datum.value % 100 === 0", "value": 4}, "value": 2}, "labelPadding": 5, "titlePadding": 2}}
 }},
{"width": 169, "height": 207, "view": {"stroke": null}, "layer": [
  {"data": {"values": [{"label": "CTP 200µM"}]}, "mark": {"type": "text", "fontSize": 21, "align": "left", "baseline": "middle"}, "encoding": {"text": {"field": "label"}, "x": {"datum": 993, "type": "quantitative", "scale": {"domain": [1017, 1186], "nice": false, "zero": false}, "axis": null}, "y": {"datum": 749, "type": "quantitative", "scale": {"domain": [629, 836], "reverse": true, "nice": false, "zero": false}, "axis": null}}}
]},

{"width": 168, "height": 193, "view": {"stroke": null}, "layer": [
  {"data": {"values": [{"label": "dTTP 200µM"}]}, "mark": {"type": "text", "fontSize": 21, "align": "center", "baseline": "middle"}, "encoding": {"text": {"field": "label"}, "x": {"datum": 119, "type": "quantitative", "scale": {"domain": [10, 178], "nice": false, "zero": false}, "axis": null}, "y": {"datum": 955, "type": "quantitative", "scale": {"domain": [836, 1029], "reverse": true, "nice": false, "zero": false}, "axis": null}}}
]},
{"width": 318, "height": 140, "view": {"fill": "white", "stroke": "black", "strokeWidth": 1}, "title": "T-cells+B  ko +dT/d5/cya.019", "data": {"name": "p8"},
 "mark": {"type": "area", "fill": "#6600cc", "stroke": "black", "strokeWidth": 0.7, "opacity": 1, "interpolate": "linear"},
 "encoding": {
  "x": {"field": "CFDA", "type": "quantitative", "scale": {"type": "log", "domain": [1, 10000], "nice": false, "zero": false}, "axis": {"title": "CFDA", "titleFontSize": 9, "labelFontSize": 8.5, "values": [1,2,3,4,5,6,7,8,9,10,20,30,40,50,60,70,80,90,100,200,300,400,500,600,700,800,900,1000,2000,3000,4000,5000,6000,7000,8000,9000,10000], "labelExpr": "datum.value == 1 ? '10\u2070' : datum.value == 10 ? '10\u00b9' : datum.value == 100 ? '10\u00b2' : datum.value == 1000 ? '10\u00b3' : datum.value == 10000 ? '10\u2074' : ''", "labelOverlap": false, "labelFlush": false, "tickSize": {"condition": {"test": "indexof([1,10,100,1000,10000], datum.value) >= 0", "value": 4}, "value": 2.5}, "labelPadding": 2, "titlePadding": 1}},
  "y": {"field": "Counts", "type": "quantitative", "stack": null, "scale": {"domain": [0, 500], "nice": false, "zero": false}, "axis": {"title": "Counts", "titleFontSize": 8.5, "labelFontSize": 8.5, "values": [0,20,40,60,80,100,120,140,160,180,200,220,240,260,280,300,320,340,360,380,400,420,440,460,480,500], "labelExpr": "datum.value % 100 === 0 ? datum.label : ''", "labelAngle": -90, "labelAlign": "center", "labelBaseline": "bottom", "labelOverlap": false, "labelFlush": false, "tickSize": {"condition": {"test": "datum.value % 100 === 0", "value": 4}, "value": 2}, "labelPadding": 5, "titlePadding": 2}}
 }},
{"width": 318, "height": 140, "view": {"fill": "white", "stroke": "black", "strokeWidth": 1}, "title": "T-cells+B  ko+rU/d5/mmf.007", "data": {"name": "p9"},
 "mark": {"type": "area", "fill": "#6600cc", "stroke": "black", "strokeWidth": 0.7, "opacity": 1, "interpolate": "linear"},
 "encoding": {
  "x": {"field": "CFDA", "type": "quantitative", "scale": {"type": "log", "domain": [1, 10000], "nice": false, "zero": false}, "axis": {"title": "CFDA", "titleFontSize": 9, "labelFontSize": 8.5, "values": [1,2,3,4,5,6,7,8,9,10,20,30,40,50,60,70,80,90,100,200,300,400,500,600,700,800,900,1000,2000,3000,4000,5000,6000,7000,8000,9000,10000], "labelExpr": "datum.value == 1 ? '10\u2070' : datum.value == 10 ? '10\u00b9' : datum.value == 100 ? '10\u00b2' : datum.value == 1000 ? '10\u00b3' : datum.value == 10000 ? '10\u2074' : ''", "labelOverlap": false, "labelFlush": false, "tickSize": {"condition": {"test": "indexof([1,10,100,1000,10000], datum.value) >= 0", "value": 4}, "value": 2.5}, "labelPadding": 2, "titlePadding": 1}},
  "y": {"field": "Counts", "type": "quantitative", "stack": null, "scale": {"domain": [0, 500], "nice": false, "zero": false}, "axis": {"title": "Counts", "titleFontSize": 8.5, "labelFontSize": 8.5, "values": [0,20,40,60,80,100,120,140,160,180,200,220,240,260,280,300,320,340,360,380,400,420,440,460,480,500], "labelExpr": "datum.value % 100 === 0 ? datum.label : ''", "labelAngle": -90, "labelAlign": "center", "labelBaseline": "bottom", "labelOverlap": false, "labelFlush": false, "tickSize": {"condition": {"test": "datum.value % 100 === 0", "value": 4}, "value": 2}, "labelPadding": 5, "titlePadding": 2}}
 }},
{"width": 169, "height": 193, "view": {"stroke": null}, "layer": [
  {"data": {"values": [{"label": "UTP 200µM"}]}, "mark": {"type": "text", "fontSize": 21, "align": "left", "baseline": "middle"}, "encoding": {"text": {"field": "label"}, "x": {"datum": 993, "type": "quantitative", "scale": {"domain": [1017, 1186], "nice": false, "zero": false}, "axis": null}, "y": {"datum": 955, "type": "quantitative", "scale": {"domain": [836, 1029], "reverse": true, "nice": false, "zero": false}, "axis": null}}}
]},

{"width": 168, "height": 225, "view": {"stroke": null}, "layer": [
  {"data": {"values": [{"label": "dGTP 200µM"}]}, "mark": {"type": "text", "fontSize": 21, "align": "center", "baseline": "middle"}, "encoding": {"text": {"field": "label"}, "x": {"datum": 117, "type": "quantitative", "scale": {"domain": [10, 178], "nice": false, "zero": false}, "axis": null}, "y": {"datum": 1172, "type": "quantitative", "scale": {"domain": [1029, 1254], "reverse": true, "nice": false, "zero": false}, "axis": null}}},
  {"data": {"values": [{"element": "highlight ellipse"}]}, "mark": {"type": "point", "shape": "M -1 0 C -1 -0.276 -0.552 -0.5 0 -0.5 C 0.552 -0.5 1 -0.276 1 0 C 1 0.276 0.552 0.5 0 0.5 C -0.552 0.5 -1 0.276 -1 0 Z", "size": 37249, "filled": false, "stroke": "#ff0000", "strokeWidth": 6.5, "opacity": 1}, "encoding": {"x": {"datum": 108, "type": "quantitative", "scale": {"domain": [10, 178], "nice": false, "zero": false}, "axis": null}, "y": {"datum": 1158.5, "type": "quantitative", "scale": {"domain": [1029, 1254], "reverse": true, "nice": false, "zero": false}, "axis": null}}},
  {"data": {"values": [{"label": "day 5"}]}, "mark": {"type": "text", "fontSize": 21, "align": "center", "baseline": "middle"}, "encoding": {"text": {"field": "label"}, "x": {"datum": 586, "type": "quantitative", "scale": {"domain": [10, 178], "nice": false, "zero": false}, "axis": null}, "y": {"datum": 1241, "type": "quantitative", "scale": {"domain": [1029, 1254], "reverse": true, "nice": false, "zero": false}, "axis": null}}}
]},
{"width": 318, "height": 139, "view": {"fill": "white", "stroke": "black", "strokeWidth": 1}, "title": "T-cells+B  ko+dG /d5/cya.023", "layer": [
 {"data": {"name": "p10"}, "mark": {"type": "area", "fill": "#6600cc", "stroke": "black", "strokeWidth": 0.7, "opacity": 1, "interpolate": "linear"},
 "encoding": {
  "x": {"field": "CFDA", "type": "quantitative", "scale": {"type": "log", "domain": [1, 10000], "nice": false, "zero": false}, "axis": {"title": "CFDA", "titleFontSize": 9, "labelFontSize": 8.5, "values": [1,2,3,4,5,6,7,8,9,10,20,30,40,50,60,70,80,90,100,200,300,400,500,600,700,800,900,1000,2000,3000,4000,5000,6000,7000,8000,9000,10000], "labelExpr": "datum.value == 1 ? '10\u2070' : datum.value == 10 ? '10\u00b9' : datum.value == 100 ? '10\u00b2' : datum.value == 1000 ? '10\u00b3' : datum.value == 10000 ? '10\u2074' : ''", "labelOverlap": false, "labelFlush": false, "tickSize": {"condition": {"test": "indexof([1,10,100,1000,10000], datum.value) >= 0", "value": 4}, "value": 2.5}, "labelPadding": 2, "titlePadding": 1}},
  "y": {"field": "Counts", "type": "quantitative", "stack": null, "scale": {"domain": [0, 500], "nice": false, "zero": false}, "axis": {"title": "Counts", "titleFontSize": 8.5, "labelFontSize": 8.5, "values": [0,20,40,60,80,100,120,140,160,180,200,220,240,260,280,300,320,340,360,380,400,420,440,460,480,500], "labelExpr": "datum.value % 100 === 0 ? datum.label : ''", "labelAngle": -90, "labelAlign": "center", "labelBaseline": "bottom", "labelOverlap": false, "labelFlush": false, "tickSize": {"condition": {"test": "datum.value % 100 === 0", "value": 4}, "value": 2}, "labelPadding": 5, "titlePadding": 2}}
 }},
 {"data": {"values": [{"annotation": "arrow"}]}, "mark": {"type": "rule", "color": "#ff0000", "strokeWidth": 8}, "encoding": {
  "x": {"datum": 10.4, "type": "quantitative", "scale": {"type": "log", "domain": [1, 10000], "nice": false, "zero": false}, "axis": {"title": "CFDA", "titleFontSize": 9, "labelFontSize": 8.5, "values": [1,2,3,4,5,6,7,8,9,10,20,30,40,50,60,70,80,90,100,200,300,400,500,600,700,800,900,1000,2000,3000,4000,5000,6000,7000,8000,9000,10000], "labelExpr": "datum.value == 1 ? '10\u2070' : datum.value == 10 ? '10\u00b9' : datum.value == 100 ? '10\u00b2' : datum.value == 1000 ? '10\u00b3' : datum.value == 10000 ? '10\u2074' : ''", "labelOverlap": false, "labelFlush": false, "tickSize": {"condition": {"test": "indexof([1,10,100,1000,10000], datum.value) >= 0", "value": 4}, "value": 2.5}, "labelPadding": 2, "titlePadding": 1}},
  "y": {"datum": 374, "type": "quantitative", "scale": {"domain": [0, 500], "nice": false, "zero": false}, "axis": {"title": "Counts", "titleFontSize": 8.5, "labelFontSize": 8.5, "values": [0,20,40,60,80,100,120,140,160,180,200,220,240,260,280,300,320,340,360,380,400,420,440,460,480,500], "labelExpr": "datum.value % 100 === 0 ? datum.label : ''", "labelAngle": -90, "labelAlign": "center", "labelBaseline": "bottom", "labelOverlap": false, "labelFlush": false, "tickSize": {"condition": {"test": "datum.value % 100 === 0", "value": 4}, "value": 2}, "labelPadding": 5, "titlePadding": 2}},
  "x2": {"datum": 108}, "y2": {"datum": 83}}},
 {"data": {"values": [{"annotation": "arrow"}]}, "mark": {"type": "point", "shape": "M 0 0 L -1.7 -1 L -1.7 1 Z", "size": 625, "angle": 45, "filled": true, "fill": "#ff0000", "strokeWidth": 0, "opacity": 1}, "encoding": {
  "x": {"datum": 162, "type": "quantitative", "scale": {"type": "log", "domain": [1, 10000], "nice": false, "zero": false}, "axis": {"title": "CFDA", "titleFontSize": 9, "labelFontSize": 8.5, "values": [1,2,3,4,5,6,7,8,9,10,20,30,40,50,60,70,80,90,100,200,300,400,500,600,700,800,900,1000,2000,3000,4000,5000,6000,7000,8000,9000,10000], "labelExpr": "datum.value == 1 ? '10\u2070' : datum.value == 10 ? '10\u00b9' : datum.value == 100 ? '10\u00b2' : datum.value == 1000 ? '10\u00b3' : datum.value == 10000 ? '10\u2074' : ''", "labelOverlap": false, "labelFlush": false, "tickSize": {"condition": {"test": "indexof([1,10,100,1000,10000], datum.value) >= 0", "value": 4}, "value": 2.5}, "labelPadding": 2, "titlePadding": 1}},
  "y": {"datum": 33, "type": "quantitative", "scale": {"domain": [0, 500], "nice": false, "zero": false}, "axis": {"title": "Counts", "titleFontSize": 8.5, "labelFontSize": 8.5, "values": [0,20,40,60,80,100,120,140,160,180,200,220,240,260,280,300,320,340,360,380,400,420,440,460,480,500], "labelExpr": "datum.value % 100 === 0 ? datum.label : ''", "labelAngle": -90, "labelAlign": "center", "labelBaseline": "bottom", "labelOverlap": false, "labelFlush": false, "tickSize": {"condition": {"test": "datum.value % 100 === 0", "value": 4}, "value": 2}, "labelPadding": 5, "titlePadding": 2}}}}
]},
{"width": 318, "height": 139, "view": {"fill": "white", "stroke": "black", "strokeWidth": 1}, "title": "T-cells+B  ko+rG/d5/mmf.011", "layer": [
 {"data": {"name": "p11"}, "mark": {"type": "area", "fill": "#6600cc", "stroke": "black", "strokeWidth": 0.7, "opacity": 1, "interpolate": "linear"},
 "encoding": {
  "x": {"field": "CFDA", "type": "quantitative", "scale": {"type": "log", "domain": [1, 10000], "nice": false, "zero": false}, "axis": {"title": "CFDA", "titleFontSize": 9, "labelFontSize": 8.5, "values": [1,2,3,4,5,6,7,8,9,10,20,30,40,50,60,70,80,90,100,200,300,400,500,600,700,800,900,1000,2000,3000,4000,5000,6000,7000,8000,9000,10000], "labelExpr": "datum.value == 1 ? '10\u2070' : datum.value == 10 ? '10\u00b9' : datum.value == 100 ? '10\u00b2' : datum.value == 1000 ? '10\u00b3' : datum.value == 10000 ? '10\u2074' : ''", "labelOverlap": false, "labelFlush": false, "tickSize": {"condition": {"test": "indexof([1,10,100,1000,10000], datum.value) >= 0", "value": 4}, "value": 2.5}, "labelPadding": 2, "titlePadding": 1}},
  "y": {"field": "Counts", "type": "quantitative", "stack": null, "scale": {"domain": [0, 500], "nice": false, "zero": false}, "axis": {"title": "Counts", "titleFontSize": 8.5, "labelFontSize": 8.5, "values": [0,20,40,60,80,100,120,140,160,180,200,220,240,260,280,300,320,340,360,380,400,420,440,460,480,500], "labelExpr": "datum.value % 100 === 0 ? datum.label : ''", "labelAngle": -90, "labelAlign": "center", "labelBaseline": "bottom", "labelOverlap": false, "labelFlush": false, "tickSize": {"condition": {"test": "datum.value % 100 === 0", "value": 4}, "value": 2}, "labelPadding": 5, "titlePadding": 2}}
 }},
 {"data": {"values": [{"annotation": "arrow"}]}, "mark": {"type": "rule", "color": "#ff0000", "strokeWidth": 8}, "encoding": {
  "x": {"datum": 11.1, "type": "quantitative", "scale": {"type": "log", "domain": [1, 10000], "nice": false, "zero": false}, "axis": {"title": "CFDA", "titleFontSize": 9, "labelFontSize": 8.5, "values": [1,2,3,4,5,6,7,8,9,10,20,30,40,50,60,70,80,90,100,200,300,400,500,600,700,800,900,1000,2000,3000,4000,5000,6000,7000,8000,9000,10000], "labelExpr": "datum.value == 1 ? '10\u2070' : datum.value == 10 ? '10\u00b9' : datum.value == 100 ? '10\u00b2' : datum.value == 1000 ? '10\u00b3' : datum.value == 10000 ? '10\u2074' : ''", "labelOverlap": false, "labelFlush": false, "tickSize": {"condition": {"test": "indexof([1,10,100,1000,10000], datum.value) >= 0", "value": 4}, "value": 2.5}, "labelPadding": 2, "titlePadding": 1}},
  "y": {"datum": 374, "type": "quantitative", "scale": {"domain": [0, 500], "nice": false, "zero": false}, "axis": {"title": "Counts", "titleFontSize": 8.5, "labelFontSize": 8.5, "values": [0,20,40,60,80,100,120,140,160,180,200,220,240,260,280,300,320,340,360,380,400,420,440,460,480,500], "labelExpr": "datum.value % 100 === 0 ? datum.label : ''", "labelAngle": -90, "labelAlign": "center", "labelBaseline": "bottom", "labelOverlap": false, "labelFlush": false, "tickSize": {"condition": {"test": "datum.value % 100 === 0", "value": 4}, "value": 2}, "labelPadding": 5, "titlePadding": 2}},
  "x2": {"datum": 111}, "y2": {"datum": 83}}},
 {"data": {"values": [{"annotation": "arrow"}]}, "mark": {"type": "point", "shape": "M 0 0 L -1.7 -1 L -1.7 1 Z", "size": 625, "angle": 45, "filled": true, "fill": "#ff0000", "strokeWidth": 0, "opacity": 1}, "encoding": {
  "x": {"datum": 166, "type": "quantitative", "scale": {"type": "log", "domain": [1, 10000], "nice": false, "zero": false}, "axis": {"title": "CFDA", "titleFontSize": 9, "labelFontSize": 8.5, "values": [1,2,3,4,5,6,7,8,9,10,20,30,40,50,60,70,80,90,100,200,300,400,500,600,700,800,900,1000,2000,3000,4000,5000,6000,7000,8000,9000,10000], "labelExpr": "datum.value == 1 ? '10\u2070' : datum.value == 10 ? '10\u00b9' : datum.value == 100 ? '10\u00b2' : datum.value == 1000 ? '10\u00b3' : datum.value == 10000 ? '10\u2074' : ''", "labelOverlap": false, "labelFlush": false, "tickSize": {"condition": {"test": "indexof([1,10,100,1000,10000], datum.value) >= 0", "value": 4}, "value": 2.5}, "labelPadding": 2, "titlePadding": 1}},
  "y": {"datum": 33, "type": "quantitative", "scale": {"domain": [0, 500], "nice": false, "zero": false}, "axis": {"title": "Counts", "titleFontSize": 8.5, "labelFontSize": 8.5, "values": [0,20,40,60,80,100,120,140,160,180,200,220,240,260,280,300,320,340,360,380,400,420,440,460,480,500], "labelExpr": "datum.value % 100 === 0 ? datum.label : ''", "labelAngle": -90, "labelAlign": "center", "labelBaseline": "bottom", "labelOverlap": false, "labelFlush": false, "tickSize": {"condition": {"test": "datum.value % 100 === 0", "value": 4}, "value": 2}, "labelPadding": 5, "titlePadding": 2}}}}
]},
{"width": 169, "height": 225, "view": {"stroke": null}, "layer": [
  {"data": {"values": [{"label": "GTP 200µM"}]}, "mark": {"type": "text", "fontSize": 21, "align": "left", "baseline": "middle"}, "encoding": {"text": {"field": "label"}, "x": {"datum": 1015, "type": "quantitative", "scale": {"domain": [1017, 1186], "nice": false, "zero": false}, "axis": null}, "y": {"datum": 1172, "type": "quantitative", "scale": {"domain": [1029, 1254], "reverse": true, "nice": false, "zero": false}, "axis": null}}},
  {"data": {"values": [{"element": "highlight ellipse"}]}, "mark": {"type": "point", "shape": "M -1 0 C -1 -0.276 -0.552 -0.5 0 -0.5 C 0.552 -0.5 1 -0.276 1 0 C 1 0.276 0.552 0.5 0 0.5 C -0.552 0.5 -1 0.276 -1 0 Z", "size": 37249, "filled": false, "stroke": "#ff0000", "strokeWidth": 6.5, "opacity": 1}, "encoding": {"x": {"datum": 1068.5, "type": "quantitative", "scale": {"domain": [1017, 1186], "nice": false, "zero": false}, "axis": null}, "y": {"datum": 1159, "type": "quantitative", "scale": {"domain": [1029, 1254], "reverse": true, "nice": false, "zero": false}, "axis": null}}},
  {"data": {"values": [{"element": "page corner"}]}, "mark": {"type": "rule", "color": "white", "strokeWidth": 0}, "encoding": {"x": {"datum": 1185, "type": "quantitative", "scale": {"domain": [1017, 1186], "nice": false, "zero": false}, "axis": null}, "y": {"datum": 1253, "type": "quantitative", "scale": {"domain": [1029, 1254], "reverse": true, "nice": false, "zero": false}, "axis": null}, "x2": {"datum": 1186}, "y2": {"datum": 1254}}}
]}
]
}
